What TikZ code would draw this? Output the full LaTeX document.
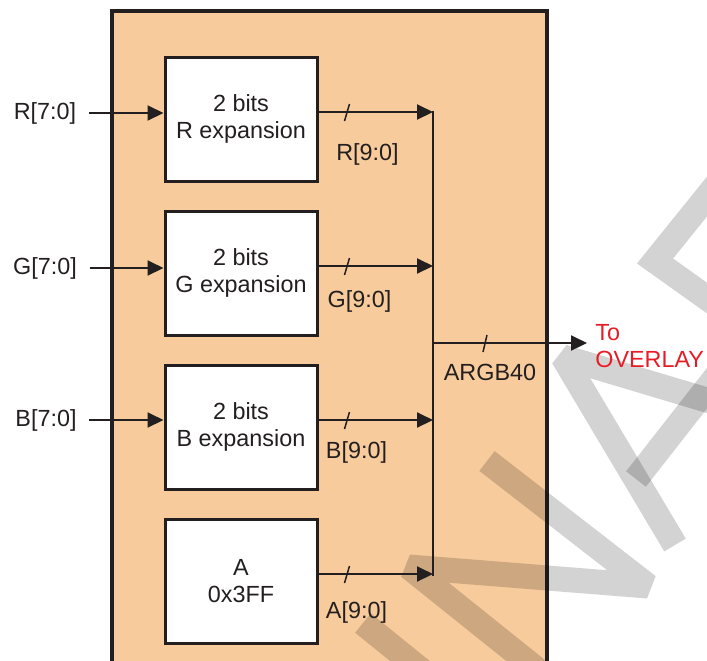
\documentclass[tikz,border=0pt]{standalone}
\usepackage{fontspec}
\setmainfont{Liberation Sans}
\usetikzlibrary{arrows.meta,positioning,calc}
\definecolor{ovlorange}{RGB}{247,203,155}
\definecolor{ovlink}{RGB}{35,31,32}
\definecolor{ovlred}{RGB}{232,28,38}
\definecolor{ovlmark}{RGB}{211,211,211}

\begin{document}
\begin{tikzpicture}[x=0.2mm, y=-0.2mm,
  font=\fontsize{13.3}{15.4}\selectfont,
  blk/.style={draw=ovlink, line width=0.6mm, fill=white, minimum width=30.4mm,
    minimum height=24.8mm, align=center, text=ovlink},
  lbl/.style={inner sep=0pt, text=ovlink},
  wire/.style={draw=ovlink, line width=0.4mm},
  sig/.style={wire, -{Triangle[length=3.2mm, width=3mm]}},
  busmark/.style={draw=ovlink, line width=0.3mm}]
  \useasboundingbox (0,0) rectangle (707,660);
  \clip (0,0) rectangle (707,660);
  \draw[line width=0.7mm, draw=ovlink, fill=ovlorange] (112,11) rectangle (547,700);
  % watermark
  \begin{scope}[blend mode=multiply, draw=ovlmark, line width=5mm, miter limit=20]
    \draw (730,168) -- (655,261) -- (735,318);
    \draw[line join=bevel] (740,410) -- (563,357) -- (675,545);
    \draw (636,479) -- (740,346);
    \draw[line join=bevel] (487,461) -- (648,586) -- (409,567) -- (575,700);
    \draw (363,623) -- (458,700);
  \end{scope}
  % expansion blocks
  \node[blk] (rexp) at (241,119) {2 bits\\R expansion};
  \node[blk] (gexp) at (241,273) {2 bits\\G expansion};
  \node[blk] (bexp) at (241,427) {2 bits\\B expansion};
  \node[blk] (aval) at (241,581) {A\\0x3FF};
  % inputs
  \node[lbl] (rin) at (45,113) {R[7:0]};
  \node[lbl] (gin) at (45,268) {G[7:0]};
  \node[lbl] (bin) at (46,420) {B[7:0]};
  \foreach \src/\dst in {rin/rexp, gin/gexp, bin/bexp}
    \draw[sig, shorten <=2.5mm] (\src.east) -- (\src.east -| \dst.west);
  % outputs to the bus
  \coordinate (busx) at (433,0);
  \foreach \blk/\txt/\dx/\dy in {rexp/R/49/35, gexp/G/41/28, bexp/B/38/25, aval/A/38/31} {
    \draw[sig] ([yshift=1.4mm]\blk.east) -- ([yshift=1.4mm]\blk.east -| busx);
    \draw[busmark] ([shift={(26,2)}]\blk.east) -- ++(5,-17);
    \node[lbl] at ([shift={(\dx,\dy)}]\blk.east) {\txt[9:0]};
  }
  \draw[wire, shorten <=-0.3mm, shorten >=-0.3mm]
    ([yshift=1.4mm]rexp.east -| busx) -- ([yshift=1.4mm]aval.east -| busx);
  % merged output
  \node[lbl, text=ovlred, align=left, anchor=west] (overlay) at (595,346.5) {To\\OVERLAY};
  \coordinate (argb) at (433,343);
  \draw[sig, shorten >=1.6mm] (argb) -- (argb -| overlay.west);
  \draw[busmark] (483,352) -- (487,335);
  \node[lbl] at (490,372) {ARGB40};
\end{tikzpicture}
\end{document}
